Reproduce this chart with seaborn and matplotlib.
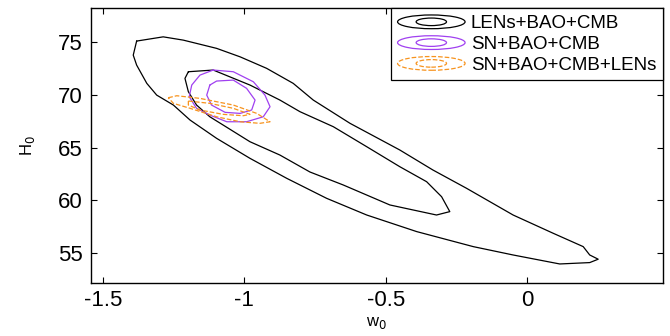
import numpy as np
import pandas as pd
import matplotlib
matplotlib.use("Agg")
import matplotlib.pyplot as plt
import seaborn as sns
from matplotlib.legend_handler import HandlerBase
from matplotlib.patches import Ellipse
from matplotlib.lines import Line2D

# ---- data: confidence contours in (w0, H0) plane ----
lens_outer_w = [-1.381, -1.287, -1.216, -1.098, -1.015, -0.921, -0.827, -0.756, -0.626, -0.450,
                -0.333, -0.214, -0.049, 0.093, 0.199, 0.222, 0.252, 0.222, 0.116, -0.049,
                -0.190, -0.390, -0.567, -0.709, -0.850, -0.980, -1.098, -1.192, -1.251, -1.310,
                -1.345, -1.381, -1.393]
lens_outer_h = [75.07, 75.47, 75.16, 74.38, 73.58, 72.49, 71.07, 69.49, 67.29, 64.77,
                62.88, 61.15, 58.62, 56.89, 55.63, 54.84, 54.44, 54.12, 53.99, 54.84,
                55.63, 57.05, 58.62, 60.20, 62.09, 63.98, 65.87, 67.60, 69.02, 69.96,
                71.07, 72.80, 73.74]

lens_inner_w = [-1.198, -1.110, -0.980, -0.874, -0.803, -0.685, -0.567, -0.450, -0.355, -0.302,
                -0.273, -0.320, -0.485, -0.650, -0.768, -0.874, -0.980, -1.075, -1.122, -1.169,
                -1.198, -1.210]
lens_inner_h = [72.17, 72.33, 70.91, 69.49, 68.39, 66.97, 65.08, 63.19, 61.77, 60.35,
                58.94, 58.62, 59.57, 61.46, 62.69, 64.29, 65.55, 67.13, 67.91, 69.02,
                70.28, 71.54]

sn_outer_w = [-1.110, -1.039, -0.968, -0.927, -0.909, -0.933, -0.992, -1.062, -1.122, -1.169,
              -1.195, -1.186, -1.157]
sn_outer_h = [72.33, 72.17, 71.22, 69.96, 68.86, 67.91, 67.44, 67.44, 68.07, 68.71,
              69.80, 70.91, 71.85]

sn_inner_w = [-1.122, -1.098, -1.039, -0.992, -0.962, -0.974, -1.015, -1.068, -1.116, -1.133]
sn_inner_h = [70.91, 71.29, 71.38, 70.60, 69.49, 68.55, 68.23, 68.33, 69.02, 69.96]

all_outer_w = [-1.269, -1.239, -1.157, -1.039, -0.956, -0.909, -0.945, -1.015, -1.098, -1.192, -1.251]
all_outer_h = [69.71, 69.90, 69.65, 69.02, 68.23, 67.44, 67.29, 67.44, 67.91, 68.71, 69.18]

all_inner_w = [-1.198, -1.122, -1.039, -0.980, -1.004, -1.075, -1.157, -1.198]
all_inner_h = [69.40, 69.18, 68.71, 68.14, 68.01, 68.14, 68.55, 69.02]

labels = ["LENs+BAO+CMB", "SN+BAO+CMB", "SN+BAO+CMB+LENs"]
colors = ["black", "#a040f0", "#f7931e"]
styles = ["-", "-", "--"]

x_ticks = [-1.5, -1.0, -0.5, 0.0]
x_ticklabels = ["-1.5", "-1", "-0.5", "0"]
y_ticks = [55, 60, 65, 70, 75]

sns.set_style("ticks")
plt.rcParams["font.family"] = ["Liberation Sans", "DejaVu Sans"]
plt.rcParams["text.color"] = "black"
plt.rcParams["axes.labelcolor"] = "black"

fig = plt.figure(figsize=(6.7, 3.36), dpi=100)
ax = fig.add_axes([0.1358, 0.1568, 0.989 - 0.1358, 0.975 - 0.1568])

def closed_df(w, h):
    return pd.DataFrame({"w0": list(w) + [w[0]], "H0": list(h) + [h[0]]})

groups = [
    [(lens_outer_w, lens_outer_h), (lens_inner_w, lens_inner_h)],
    [(sn_outer_w, sn_outer_h), (sn_inner_w, sn_inner_h)],
    [(all_outer_w, all_outer_h), (all_inner_w, all_inner_h)],
]
for (cont, col, ls) in zip(groups, colors, styles):
    for w, h in cont:
        sns.lineplot(data=closed_df(w, h), x="w0", y="H0", sort=False, estimator=None,
                     color=col, linestyle=ls, linewidth=0.9, ax=ax)

ax.set_xlim(-1.5425, 0.48)
ax.set_ylim(52.16, 78.16)
ax.set_xticks(x_ticks)
ax.set_xticklabels(x_ticklabels)
ax.set_yticks(y_ticks)
ax.tick_params(direction="in", length=4, width=0.8, labelsize=16, top=True, right=True,
               colors="black")
ax.tick_params(axis="x", pad=5)
ax.tick_params(axis="y", pad=6)
for s in ax.spines.values():
    s.set_linewidth(1.0)
    s.set_color("black")
    s.set_visible(True)
ax.set_xlabel(r"w$_0$", fontsize=12, labelpad=3)
ax.set_ylabel(r"H$_0$", fontsize=12, labelpad=15)


class EllipseHandler(HandlerBase):
    def create_artists(self, legend, orig_handle, xdescent, ydescent, width, height,
                       fontsize, trans):
        col = orig_handle.get_color()
        ls = orig_handle.get_linestyle()
        cx = width / 2 - xdescent
        cy = height / 2 - ydescent
        e1 = Ellipse((cx, cy), width, height * 1.0, fill=False, edgecolor=col,
                     linestyle=ls, linewidth=0.9, transform=trans)
        e2 = Ellipse((cx, cy), width * 0.45, height * 0.55, fill=False, edgecolor=col,
                     linestyle=ls, linewidth=0.9, transform=trans)
        return [e1, e2]


handles = [Line2D([], [], color=c, linestyle=s) for c, s in zip(colors, styles)]
leg = ax.legend(handles, labels, loc="upper right", bbox_to_anchor=(1.0, 1.0),
                borderaxespad=0, fontsize=13.5, handlelength=3.6, handleheight=0.75,
                handletextpad=0.3, labelspacing=0.18, borderpad=0.35, fancybox=False,
                framealpha=1, edgecolor="black",
                handler_map={Line2D: EllipseHandler()})
leg.get_frame().set_linewidth(0.9)
for t in leg.get_texts():
    t.set_color("black")

fig.savefig("out.png", dpi=100)
